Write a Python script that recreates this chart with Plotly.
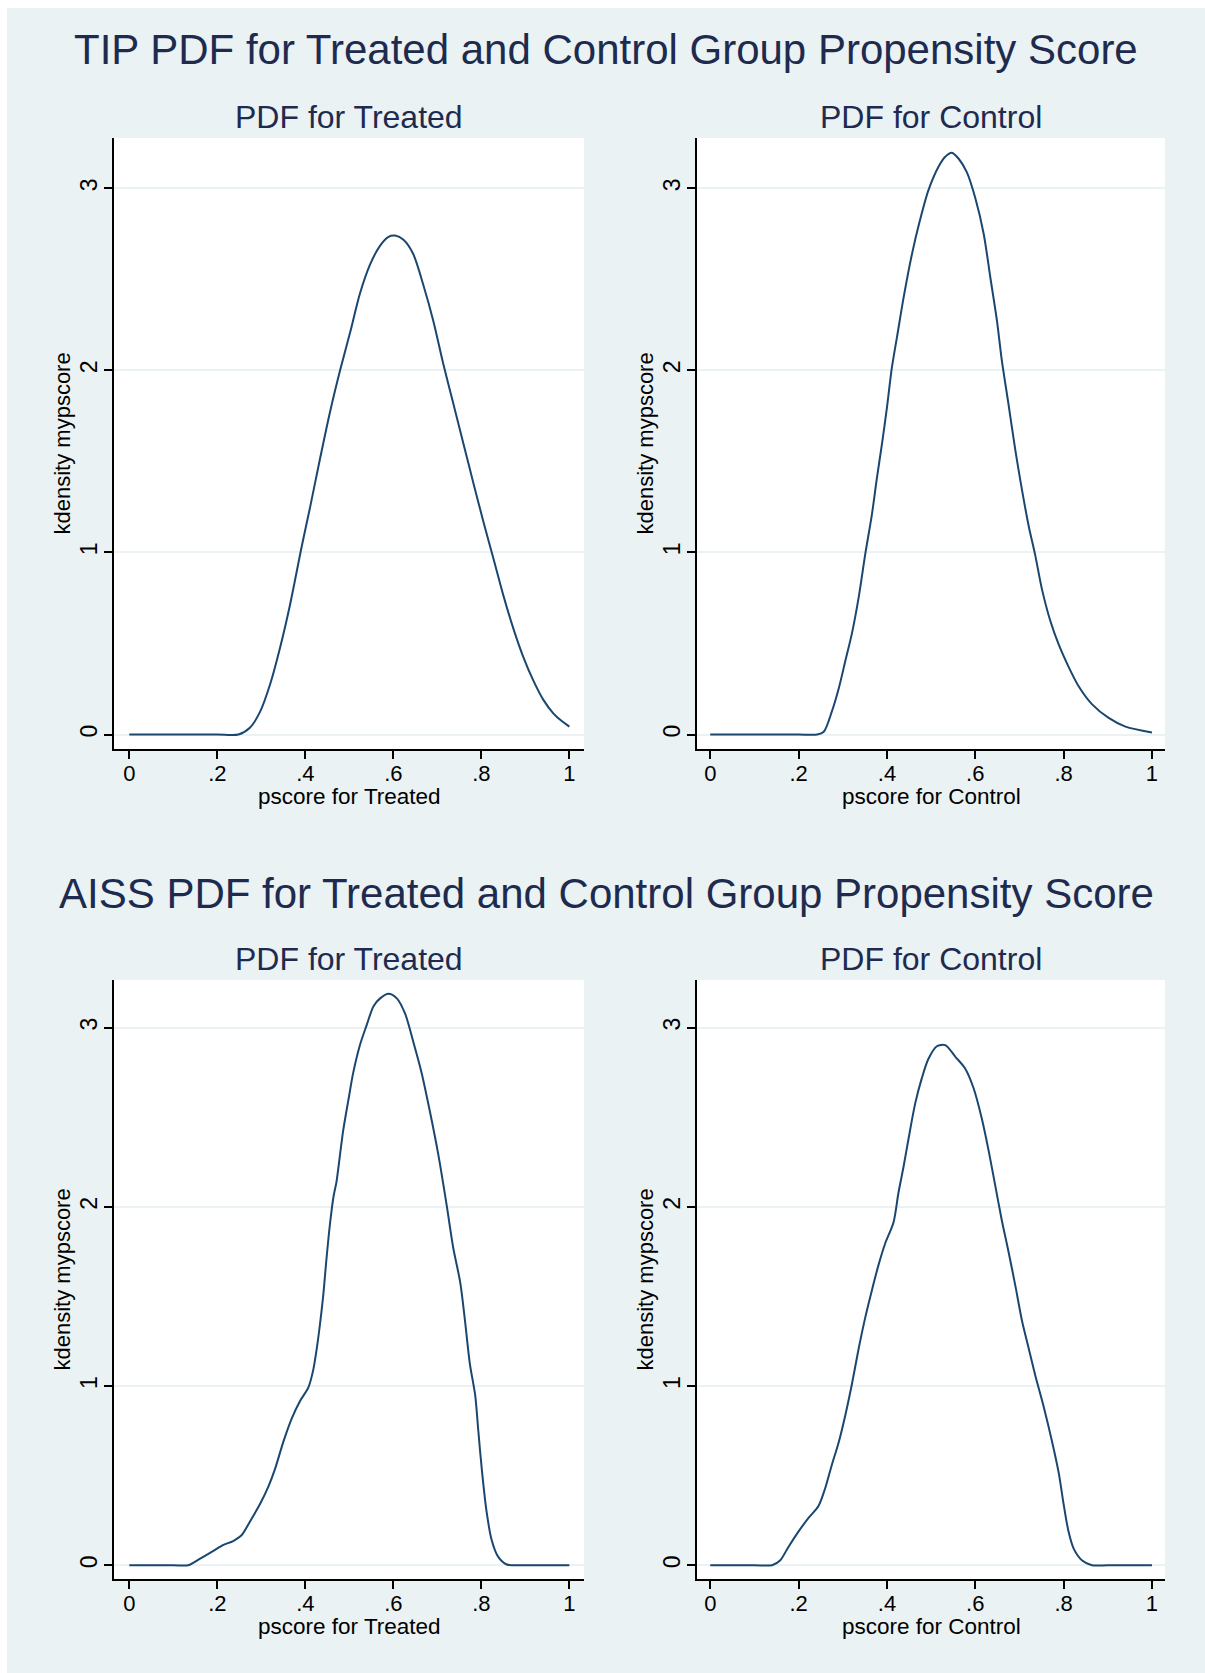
import plotly.graph_objects as go

# ---------------- data ----------------
tip_treated_x = [0.0, 0.1, 0.2, 0.248, 0.274, 0.297, 0.320, 0.342, 0.365, 0.392, 0.411, 0.433, 0.456,
                 0.479, 0.502, 0.524, 0.547, 0.570, 0.589, 0.604, 0.623, 0.645, 0.668, 0.691, 0.714,
                 0.736, 0.759, 0.782, 0.805, 0.827, 0.850, 0.873, 0.895, 0.918, 0.941, 0.964, 0.982, 1.0]
tip_treated_y = [0.0, 0.0, 0.0, 0.0, 0.037, 0.124, 0.276, 0.471, 0.71, 1.035, 1.25, 1.51, 1.77,
                 2.0, 2.21, 2.42, 2.58, 2.685, 2.733, 2.74, 2.717, 2.64, 2.47, 2.27, 2.03,
                 1.82, 1.60, 1.38, 1.166, 0.97, 0.764, 0.58, 0.428, 0.297, 0.19, 0.115, 0.075, 0.043]

tip_control_x = [0.0, 0.1, 0.2, 0.242, 0.257, 0.275, 0.291, 0.306, 0.321, 0.336, 0.351, 0.366, 0.377,
                 0.389, 0.400, 0.411, 0.423, 0.438, 0.457, 0.475, 0.494, 0.517, 0.532, 0.547, 0.562,
                 0.581, 0.600, 0.619, 0.634, 0.649, 0.660, 0.675, 0.691, 0.706, 0.721, 0.736, 0.751,
                 0.770, 0.789, 0.811, 0.834, 0.864, 0.902, 0.940, 1.0]
tip_control_y = [0.0, 0.0, 0.0, 0.0, 0.015, 0.124, 0.254, 0.406, 0.558, 0.753, 0.992, 1.209, 1.404,
                 1.60, 1.795, 2.012, 2.186, 2.403, 2.642, 2.826, 2.989, 3.119, 3.173, 3.195, 3.163,
                 3.087, 2.946, 2.75, 2.511, 2.273, 2.056, 1.817, 1.556, 1.339, 1.144, 0.981, 0.797,
                 0.623, 0.493, 0.373, 0.265, 0.167, 0.091, 0.043, 0.011]

aiss_treated_x = [0.0, 0.1, 0.134, 0.161, 0.191, 0.214, 0.236, 0.255, 0.274, 0.297, 0.316, 0.331, 0.350,
                  0.369, 0.388, 0.407, 0.418, 0.426, 0.433, 0.441, 0.448, 0.456, 0.464, 0.471, 0.479,
                  0.486, 0.498, 0.509, 0.524, 0.539, 0.555, 0.570, 0.589, 0.608, 0.627, 0.645, 0.664,
                  0.683, 0.702, 0.721, 0.736, 0.752, 0.763, 0.774, 0.786, 0.793, 0.801, 0.812, 0.823,
                  0.838, 0.858, 0.9, 1.0]
aiss_treated_y = [0.0, 0.0, 0.0, 0.037, 0.08, 0.113, 0.135, 0.167, 0.243, 0.341, 0.438, 0.536, 0.688,
                  0.818, 0.916, 0.992, 1.09, 1.209, 1.339, 1.513, 1.708, 1.904, 2.056, 2.142, 2.294,
                  2.425, 2.598, 2.75, 2.902, 3.011, 3.119, 3.163, 3.189, 3.163, 3.076, 2.924, 2.75,
                  2.533, 2.294, 2.012, 1.773, 1.578, 1.361, 1.122, 0.949, 0.753, 0.536, 0.297, 0.145,
                  0.048, 0.004, 0.0, 0.0]

aiss_control_x = [0.0, 0.1, 0.14, 0.158, 0.177, 0.200, 0.223, 0.245, 0.260, 0.275, 0.291, 0.306, 0.321,
                  0.336, 0.351, 0.366, 0.381, 0.396, 0.415, 0.426, 0.438, 0.449, 0.464, 0.479, 0.494,
                  0.513, 0.532, 0.555, 0.577, 0.596, 0.615, 0.630, 0.645, 0.660, 0.675, 0.691, 0.706,
                  0.721, 0.736, 0.755, 0.774, 0.789, 0.800, 0.811, 0.823, 0.842, 0.864, 0.9, 1.0]
aiss_control_y = [0.0, 0.0, 0.0, 0.026, 0.102, 0.189, 0.265, 0.33, 0.428, 0.558, 0.688, 0.84, 1.014,
                  1.209, 1.383, 1.535, 1.676, 1.795, 1.914, 2.077, 2.229, 2.381, 2.577, 2.718, 2.826,
                  2.896, 2.902, 2.837, 2.772, 2.663, 2.49, 2.316, 2.121, 1.925, 1.752, 1.556, 1.361,
                  1.209, 1.057, 0.883, 0.688, 0.514, 0.341, 0.189, 0.091, 0.026, 0.0, 0.0, 0.0]

x_tick_vals = [0, 0.2, 0.4, 0.6, 0.8, 1.0]
x_tick_text = ["0", ".2", ".4", ".6", ".8", "1"]
y_tick_vals = [0, 1, 2, 3]
y_tick_text = ["0", "1", "2", "3"]

main_titles = ["TIP PDF for Treated and Control Group Propensity Score",
               "AISS PDF for Treated and Control Group Propensity Score"]
sub_titles = ["PDF for Treated", "PDF for Control"]
x_titles = ["pscore for Treated", "pscore for Control"]
y_title = "kdensity mypscore"

# ---------------- style ----------------
W, H = 1205, 1673
BG = "#EAF2F3"
LINE = "#1a476f"
TITLE_C = "#1e2b4f"
FONT = "Liberation Sans, Arial, sans-serif"


def px_x(p):
    return p / W


def px_y(p):
    return 1 - p / H


# panel pixel boxes: (left, right, top, bottom)
boxes = [(114, 584, 138, 749), (697, 1165, 138, 749),
         (114, 584, 980, 1579), (697, 1165, 980, 1579)]
xranges = [[-0.0348, 1.0333], [-0.030, 1.0295], [-0.0348, 1.0333], [-0.030, 1.0295]]
yranges = [[-0.0796, 3.2756], [-0.0796, 3.2756], [-0.077, 3.2656], [-0.077, 3.2656]]

series = [(tip_treated_x, tip_treated_y), (tip_control_x, tip_control_y),
          (aiss_treated_x, aiss_treated_y), (aiss_control_x, aiss_control_y)]

fig = go.Figure()
layout = dict(
    width=W, height=H,
    margin=dict(l=0, r=0, t=0, b=0),
    paper_bgcolor=BG,
    plot_bgcolor="white",
    showlegend=False,
    font=dict(family=FONT, color="black"),
)

for i, ((xs, ys), (l, r, t, b)) in enumerate(zip(series, boxes)):
    n = "" if i == 0 else str(i + 1)
    fig.add_trace(go.Scatter(
        x=xs, y=ys, mode="lines",
        line=dict(color=LINE, width=2, shape="spline", smoothing=0.8),
        xaxis="x" + n, yaxis="y" + n, hoverinfo="skip"))
    layout["xaxis" + n] = dict(
        domain=[px_x(l), px_x(r)], range=xranges[i], anchor="y" + n,
        tickmode="array", tickvals=x_tick_vals, ticktext=x_tick_text,
        ticks="outside", ticklen=8, tickwidth=1.5, tickcolor="black",
        showline=True, linecolor="black", linewidth=1.5,
        showgrid=False, zeroline=False, fixedrange=True,
        tickfont=dict(size=22, color="black", family=FONT),
        ticklabelstandoff=-4,
    )
    layout["yaxis" + n] = dict(
        domain=[px_y(b), px_y(t)], range=yranges[i], anchor="x" + n,
        tickmode="array", tickvals=y_tick_vals, ticktext=y_tick_text,
        tickangle=-90,
        ticks="outside", ticklen=8, tickwidth=1.5, tickcolor="black",
        showline=True, linecolor="black", linewidth=1.5,
        showgrid=True, gridcolor=BG, gridwidth=1.5,
        zeroline=False, fixedrange=True,
        tickfont=dict(size=23, color="black", family=FONT),
        ticklabelstandoff=-2,
    )

annotations = []
# main titles
for txt, yc in zip(main_titles, [49, 893]):
    annotations.append(dict(text=txt, x=px_x(606), y=px_y(yc), xref="paper", yref="paper",
                            xanchor="center", yanchor="middle", showarrow=False,
                            font=dict(size=42, color=TITLE_C, family=FONT)))
# subtitles, axis titles
for row in range(2):
    for col in range(2):
        l, r, t, b = boxes[row * 2 + col]
        cx = (l + r) / 2
        annotations.append(dict(text=sub_titles[col], x=px_x(cx), y=px_y(t - 21),
                                xref="paper", yref="paper", xanchor="center", yanchor="middle",
                                showarrow=False, font=dict(size=32, color=TITLE_C, family=FONT)))
        annotations.append(dict(text=x_titles[col], x=px_x(cx), y=px_y(b + 47),
                                xref="paper", yref="paper", xanchor="center", yanchor="middle",
                                showarrow=False, font=dict(size=22.5, color="black", family=FONT)))
        annotations.append(dict(text=y_title, x=px_x(l - 52), y=px_y((t + b) / 2),
                                xref="paper", yref="paper", xanchor="center", yanchor="middle",
                                textangle=-90, showarrow=False,
                                font=dict(size=22, color="black", family=FONT)))
layout["annotations"] = annotations

# thin white border at top and left of the image
layout["shapes"] = [
    dict(type="rect", xref="paper", yref="paper", x0=0, x1=1, y0=px_y(8), y1=1,
         fillcolor="white", line=dict(width=0), layer="below"),
    dict(type="rect", xref="paper", yref="paper", x0=0, x1=px_x(7), y0=0, y1=1,
         fillcolor="white", line=dict(width=0), layer="below"),
]

fig.update_layout(**layout)
fig.write_html("out.html")
